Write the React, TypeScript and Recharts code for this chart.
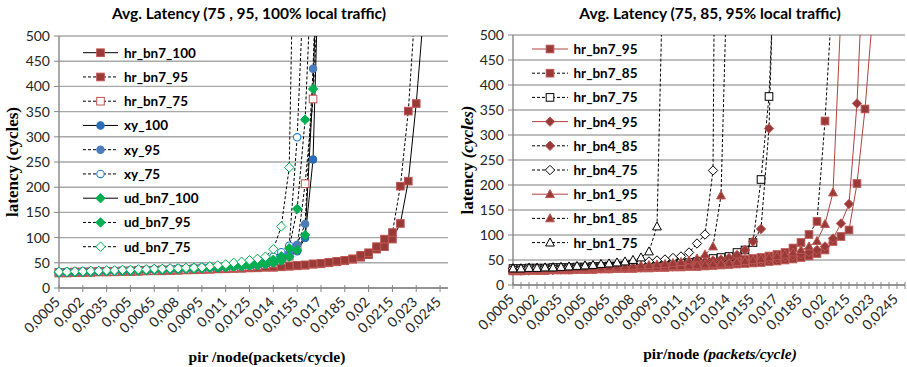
import React from "react";
import { LineChart, Line, XAxis, YAxis, CartesianGrid } from "recharts";

// packets/cycle per node (category axis, 0,0005 .. 0,025)
const loads = [
  "0,0005", "0,001", "0,0015", "0,002", "0,0025", "0,003", "0,0035", "0,004", "0,0045", "0,005",
  "0,0055", "0,006", "0,0065", "0,007", "0,0075", "0,008", "0,0085", "0,009", "0,0095", "0,01",
  "0,0105", "0,011", "0,0115", "0,012", "0,0125", "0,013", "0,0135", "0,014", "0,0145", "0,015",
  "0,0155", "0,016", "0,0165", "0,017", "0,0175", "0,018", "0,0185", "0,019", "0,0195", "0,02",
  "0,0205", "0,021", "0,0215", "0,022", "0,0225", "0,023", "0,0235", "0,024", "0,0245", "0,025",
];
const yTicks = [0, 50, 100, 150, 200, 250, 300, 350, 400, 450, 500];

// left panel: 75 / 95 / 100 % local traffic
const hrBn7_100 = [30, 30, 31, 31, 31, 32, 32, 32, 33, 33, 33, 34, 34, 34, 35, 35, 36, 36, 37, 37, 38, 38, 39, 39, 40, 40, 41, 41, 42, 43, 44, 45, 47, 48, 50, 52, 54, 57, 61, 66, 77, 82, 97, 128, 212, 366, 560];
const hrBn7_95 = [30, 30, 31, 31, 32, 32, 32, 33, 33, 33, 34, 34, 35, 35, 35, 36, 36, 37, 37, 38, 38, 39, 39, 40, 40, 41, 42, 42, 43, 44, 45, 46, 48, 49, 51, 53, 55, 58, 65, 70, 82, 97, 110, 202, 351, 590];
const hrBn7_75 = [31, 31, 32, 32, 32, 33, 33, 33, 34, 34, 35, 35, 35, 36, 36, 37, 37, 38, 38, 39, 40, 40, 41, 42, 43, 44, 46, 49, 54, 63, 80, 207, 375, 700];
const xy100 = [31, 31, 32, 32, 32, 33, 33, 34, 34, 34, 35, 35, 36, 36, 37, 37, 38, 38, 39, 40, 40, 41, 42, 43, 44, 45, 47, 50, 55, 63, 73, 99, 255, 800];
const xy95 = [31, 32, 32, 32, 33, 33, 33, 34, 34, 35, 35, 36, 36, 37, 37, 38, 38, 39, 40, 40, 41, 42, 43, 44, 45, 47, 49, 52, 58, 68, 86, 127, 435, 900];
const xy75 = [32, 32, 32, 33, 33, 33, 34, 34, 35, 35, 36, 36, 37, 37, 38, 39, 39, 40, 41, 42, 43, 44, 45, 47, 49, 52, 56, 62, 71, 84, 299, 670];
const udBn7_100 = [31, 31, 32, 32, 32, 33, 33, 34, 34, 34, 35, 35, 36, 36, 37, 37, 38, 38, 39, 40, 40, 41, 42, 43, 44, 45, 47, 50, 54, 62, 75, 105, 395, 900];
const udBn7_95 = [31, 32, 32, 32, 33, 33, 34, 34, 34, 35, 35, 36, 37, 37, 38, 38, 39, 40, 40, 41, 42, 43, 44, 45, 47, 49, 52, 56, 63, 79, 157, 334, 700];
const udBn7_75 = [32, 32, 33, 33, 34, 34, 35, 35, 36, 36, 37, 37, 38, 38, 39, 39, 40, 40, 41, 43, 45, 47, 50, 52, 55, 58, 62, 77, 122, 239, 1100];

// right panel: 75 / 85 / 95 % local traffic
const rBn7_95 = [28, 28, 29, 29, 29, 30, 30, 30, 31, 31, 31, 32, 32, 33, 33, 33, 34, 34, 35, 35, 36, 36, 37, 37, 38, 39, 40, 41, 42, 43, 44, 45, 47, 48, 50, 52, 55, 58, 63, 70, 87, 97, 110, 203, 352, 549];
const rBn7_85 = [29, 29, 30, 30, 30, 31, 31, 31, 32, 32, 33, 33, 34, 34, 35, 35, 36, 36, 37, 38, 39, 40, 41, 42, 43, 44, 46, 47, 49, 51, 53, 55, 58, 61, 65, 74, 85, 101, 127, 328, 603];
const rBn7_75 = [33, 33, 34, 34, 34, 35, 35, 35, 36, 36, 37, 37, 38, 38, 39, 39, 40, 41, 41, 42, 43, 44, 45, 47, 50, 53, 55, 57, 65, 70, 85, 211, 377, 772];
const rBn4_95 = [29, 29, 29, 30, 30, 30, 31, 31, 32, 32, 32, 33, 33, 34, 34, 35, 35, 36, 36, 37, 37, 38, 39, 39, 40, 41, 42, 43, 44, 46, 47, 49, 51, 53, 56, 59, 62, 66, 70, 77, 93, 123, 162, 363, 726];
const rBn4_85 = [30, 30, 31, 31, 31, 32, 32, 33, 33, 34, 34, 35, 35, 36, 37, 37, 38, 39, 40, 41, 42, 43, 44, 46, 47, 49, 51, 54, 60, 70, 87, 112, 313, 864];
const rBn4_75 = [33, 33, 34, 34, 34, 35, 35, 36, 36, 37, 38, 39, 40, 41, 42, 44, 45, 47, 49, 51, 54, 57, 65, 83, 101, 229, 2400];
const rBn1_95 = [29, 29, 30, 30, 30, 31, 31, 31, 32, 32, 33, 33, 34, 34, 34, 35, 35, 36, 36, 37, 38, 38, 39, 40, 41, 42, 43, 44, 46, 48, 50, 52, 55, 58, 61, 65, 70, 77, 88, 122, 185, 545];
const rBn1_85 = [30, 30, 31, 31, 32, 32, 33, 33, 34, 34, 35, 35, 36, 37, 37, 38, 39, 40, 41, 42, 44, 46, 49, 53, 61, 77, 179, 763];
const rBn1_75 = [33, 33, 34, 34, 35, 35, 36, 37, 38, 39, 40, 42, 43, 45, 47, 50, 55, 67, 117, 814];

const RED = "#983a37";
const RED_EDGE = "#bd5552";
const RED_LINE = "#b0433f";

type Series = {
  key: string;
  data: number[];
  dashed: boolean;
  line: string;
  shape: string;
  fill: string;
  edge: string;
};

const leftSeries: Series[] = [
  { key: "hr_bn7_100", data: hrBn7_100, dashed: false, line: "#000", shape: "square", fill: RED, edge: RED_EDGE },
  { key: "hr_bn7_95", data: hrBn7_95, dashed: true, line: "#000", shape: "square", fill: RED, edge: RED_EDGE },
  { key: "hr_bn7_75", data: hrBn7_75, dashed: true, line: "#000", shape: "square", fill: "#fff", edge: "#c0504d" },
  { key: "xy_100", data: xy100, dashed: false, line: "#000", shape: "circle", fill: "#2a6db8", edge: "#2a6db8" },
  { key: "xy_95", data: xy95, dashed: true, line: "#000", shape: "circle", fill: "#4a7dba", edge: "#4a7dba" },
  { key: "xy_75", data: xy75, dashed: true, line: "#000", shape: "circle", fill: "#fff", edge: "#1c7fd6" },
  { key: "ud_bn7_100", data: udBn7_100, dashed: false, line: "#000", shape: "diamond", fill: "#00b050", edge: "#00b050" },
  { key: "ud_bn7_95", data: udBn7_95, dashed: true, line: "#000", shape: "diamond", fill: "#00b050", edge: "#00b050" },
  { key: "ud_bn7_75", data: udBn7_75, dashed: true, line: "#000", shape: "diamond", fill: "#fff", edge: "#00b050" },
];

const rightSeries: Series[] = [
  { key: "hr_bn7_95", data: rBn7_95, dashed: false, line: RED_LINE, shape: "square", fill: RED, edge: RED_EDGE },
  { key: "hr_bn7_85", data: rBn7_85, dashed: true, line: "#000", shape: "square", fill: RED, edge: RED_EDGE },
  { key: "hr_bn7_75", data: rBn7_75, dashed: true, line: "#000", shape: "square", fill: "#fff", edge: "#000" },
  { key: "hr_bn4_95", data: rBn4_95, dashed: false, line: RED_LINE, shape: "diamond", fill: RED, edge: RED_EDGE },
  { key: "hr_bn4_85", data: rBn4_85, dashed: true, line: "#000", shape: "diamond", fill: RED, edge: RED_EDGE },
  { key: "hr_bn4_75", data: rBn4_75, dashed: true, line: "#000", shape: "diamond", fill: "#fff", edge: "#000" },
  { key: "hr_bn1_95", data: rBn1_95, dashed: false, line: RED_LINE, shape: "triangle", fill: RED, edge: RED_EDGE },
  { key: "hr_bn1_85", data: rBn1_85, dashed: true, line: "#000", shape: "triangle", fill: RED, edge: RED_EDGE },
  { key: "hr_bn1_75", data: rBn1_75, dashed: true, line: "#000", shape: "triangle", fill: "#fff", edge: "#000" },
];

function buildRows(series: Series[]) {
  return loads.map((x, i) => {
    const row: any = { x };
    series.forEach((s) => {
      row[s.key] = i < s.data.length ? s.data[i] : null;
    });
    return row;
  });
}

function Marker({ shape, cx, cy, fill, edge }: any) {
  if (shape === "square") {
    return <rect x={cx - 3.8} y={cy - 3.8} width={7.6} height={7.6} fill={fill} stroke={edge} strokeWidth={1} />;
  }
  if (shape === "circle") {
    return <circle cx={cx} cy={cy} r={3.7} fill={fill} stroke={edge} strokeWidth={1.1} />;
  }
  if (shape === "diamond") {
    const r = 4.7;
    return <path d={`M${cx} ${cy - r}L${cx + r} ${cy}L${cx} ${cy + r}L${cx - r} ${cy}Z`} fill={fill} stroke={edge} strokeWidth={1} />;
  }
  return <path d={`M${cx} ${cy - 4.6}L${cx + 4.4} ${cy + 3.4}L${cx - 4.4} ${cy + 3.4}Z`} fill={fill} stroke={edge} strokeWidth={1} />;
}

const dotFor = (s: Series) => (p: any) => {
  const { cx, cy, index, value } = p;
  if (value == null || cx == null || cy == null || isNaN(cy)) return <g key={`${s.key}-${index}`} />;
  return (
    <g key={`${s.key}-${index}`}>
      <Marker shape={s.shape} cx={cx} cy={cy} fill={s.fill} edge={s.edge} />
    </g>
  );
};

const XTick = (props: any) => {
  const { x, y, payload, index, allTicks } = props;
  const labelled = index % 3 === 0;
  return (
    <g>
      {(allTicks || labelled) && <line x1={x} x2={x} y1={y - 3} y2={y + 4} stroke="#868686" strokeWidth={1} />}
      {labelled && (
        <text
          x={x + 2}
          y={y + 15}
          transform={`rotate(-45 ${x + 2} ${y + 15})`}
          textAnchor="end"
          fontSize={14}
          fontFamily="Lato"
          fill="#262626"
        >
          {payload.value}
        </text>
      )}
    </g>
  );
};

function Panel({ series, width, margin, allTicks }: any) {
  const rows = buildRows(series);
  return (
    <LineChart width={width} height={367} data={rows} margin={margin}>
      <CartesianGrid vertical={false} stroke="#a8a8a8" strokeWidth={1.4} />
      <XAxis
        dataKey="x"
        interval={0}
        height={60}
        tickSize={0}
        tickMargin={0}
        tickLine={false}
        axisLine={{ stroke: "#868686", strokeWidth: 1.4 }}
        tick={(p: any) => <XTick {...p} allTicks={allTicks} />}
      />
      <YAxis
        domain={[0, 500]}
        ticks={yTicks}
        interval={0}
        allowDataOverflow
        width={50}
        tickSize={5}
        tickMargin={4}
        axisLine={{ stroke: "#868686", strokeWidth: 1.4 }}
        tickLine={{ stroke: "#868686" }}
        tick={{ fontSize: 14, fontFamily: "Lato", fill: "#262626" }}
      />
      {series.map((s: Series) => (
        <Line
          key={s.key}
          type="linear"
          dataKey={s.key}
          stroke={s.line}
          strokeWidth={1}
          strokeDasharray={s.dashed ? "3 2" : undefined}
          dot={dotFor(s)}
          activeDot={false}
          isAnimationActive={false}
          connectNulls={false}
        />
      ))}
    </LineChart>
  );
}

function LegendBlock({ series, x0, x1, tx, y0, step }: any) {
  const mid = (x0 + x1) / 2;
  return (
    <g>
      {series.map((s: Series, i: number) => {
        const y = y0 + i * step;
        return (
          <g key={s.key}>
            <line x1={x0} x2={x1} y1={y} y2={y} stroke={s.line} strokeWidth={1} strokeDasharray={s.dashed ? "3 2" : undefined} />
            <Marker shape={s.shape} cx={mid} cy={y} fill={s.fill} edge={s.edge} />
            <text x={tx} y={y + 5} fontSize={13.5} fontWeight="bold" fontFamily="Lato" fill="#000">
              {s.key}
            </text>
          </g>
        );
      })}
    </g>
  );
}

const titleStyle = { fontFamily: "Lato", fontWeight: 700, fontSize: 15.5 } as const;
const axisTitle = { fontFamily: "Liberation Serif", fontWeight: 700, fontSize: 15.5 } as const;
const yTitle = { fontFamily: "Liberation Serif", fontWeight: 700, fontSize: 17 } as const;

export default function App() {
  return (
    <div style={{ position: "absolute", left: 0, top: 0, width: 907, height: 367, background: "#fff" }}>
      <div style={{ position: "absolute", left: 0, top: 0 }}>
        <Panel series={leftSeries} width={455} margin={{ top: 36, right: 7, bottom: 19, left: 9 }} allTicks={false} />
      </div>
      <div style={{ position: "absolute", left: 455, top: 0 }}>
        <Panel series={rightSeries} width={452} margin={{ top: 35, right: 2, bottom: 22, left: 8 }} allTicks={true} />
      </div>
      <svg width={907} height={367} style={{ position: "absolute", left: 0, top: 0, pointerEvents: "none" }}>
        <text x={249} y={19} textAnchor="middle" {...titleStyle}>Avg. Latency (75 , 95, 100% local traffic)</text>
        <text x={710} y={19} textAnchor="middle" {...titleStyle}>Avg. Latency (75, 85, 95% local traffic)</text>
        <text transform="translate(18 162) rotate(-90)" textAnchor="middle" {...yTitle}>latency (cycles)</text>
        <text transform="translate(473 160) rotate(-90)" textAnchor="middle" {...yTitle}>
          latency <tspan fontStyle="italic">(cycles)</tspan>
        </text>
        <text x={267} y={362} textAnchor="middle" {...axisTitle}>pir /node(packets/cycle)</text>
        <text x={720} y={359} textAnchor="middle" {...axisTitle}>
          pir/node <tspan fontStyle="italic">(packets/cycle)</tspan>
        </text>
        <LegendBlock series={leftSeries} x0={83} x1={118} tx={124} y0={52.7} step={24.25} />
        <LegendBlock series={rightSeries} x0={532} x1={568} tx={573.5} y0={49} step={24.2} />
      </svg>
    </div>
  );
}
